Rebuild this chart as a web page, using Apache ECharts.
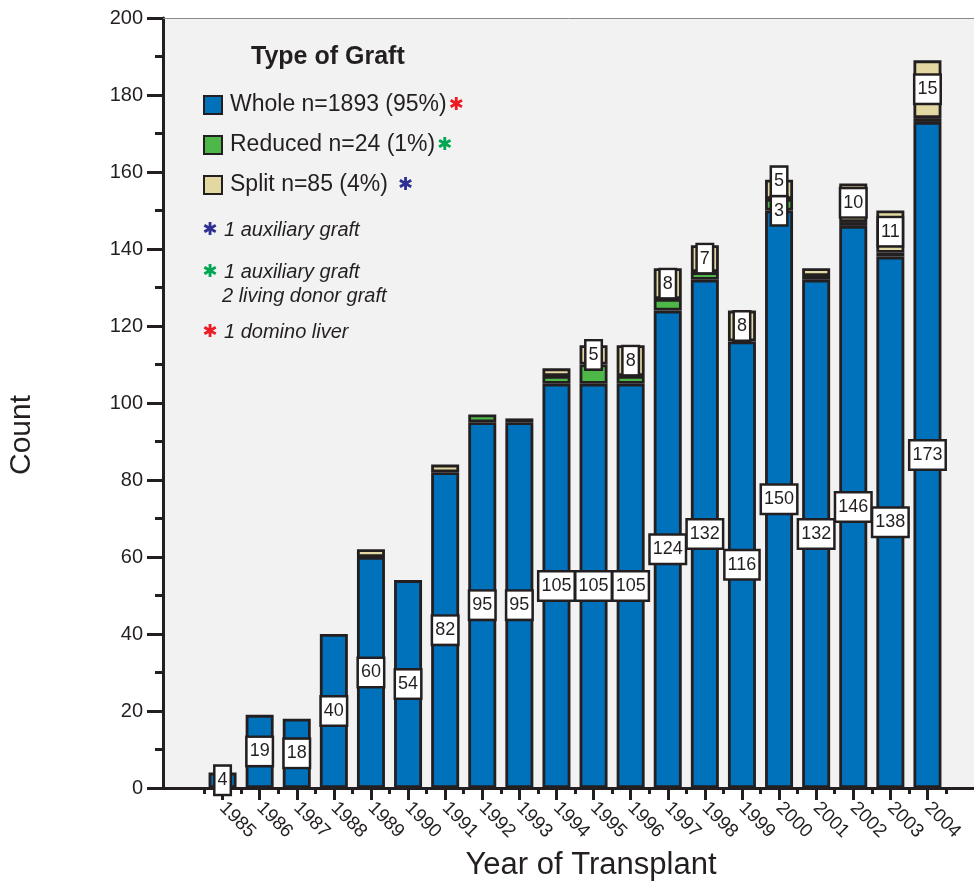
<!DOCTYPE html>
<html><head><meta charset="utf-8">
<script src="https://cdn.jsdelivr.net/npm/echarts@6/dist/echarts.min.js"></script>
<style>html,body{margin:0;padding:0;background:#fff}#c{width:974px;height:882px}</style>
</head><body><div id="c"></div>
<script>
// ---- data ----
const years = ['1985','1986','1987','1988','1989','1990','1991','1992','1993','1994','1995','1996','1997','1998','1999','2000','2001','2002','2003','2004'];
const whole   = [4,19,18,40,60,54,82,95,95,105,105,105,124,132,116,150,132,146,138,173];
const reduced = [0,0,0,0,0,0,0,2,1,2,5,2,3,2,0,3,1,1,1,1];
const split   = [0,0,0,0,2,0,2,0,0,2,5,8,8,7,8,5,2,10,11,15];
const seriesNames = ['Whole','Reduced','Split'];
const legendTexts = ['Whole n=1893 (95%)','Reduced n=24 (1%)','Split n=85 (4%)'];
const reducedLabeledYears = ['2000'];
const splitLabelMin = 5;
const yMin = 0, yMax = 200, yStep = 20;
const titleText = 'Type of Graft';
const xTitle = 'Year of Transplant';
const yTitle = 'Count';
const notes = [
  {star: 'blue',  lines: ['1 auxiliary graft']},
  {star: 'green', lines: ['1 auxiliary graft', '2 living donor graft']},
  {star: 'red',   lines: ['1 domino liver']}
];

// ---- style ----
const FONT = 'Liberation Sans, Arial, Helvetica, sans-serif';
const INK = '#231f20';
const colors = {Whole: '#0072bc', Reduced: '#4db848', Split: '#e3d8a2'};
const starColors = {red: '#ed1c24', green: '#00a651', blue: '#2e3192'};
const legendStar = {Whole: 'red', Reduced: 'green', Split: 'blue'};

const boxLabel = {
  position: 'inside', color: INK, fontFamily: FONT, fontSize: 18, lineHeight: 21,
  backgroundColor: '#fff', borderColor: INK, borderWidth: 2.5, padding: [3, 2]
};

function mkData(arr, name) {
  return arr.map((v, i) => {
    if (!v) return '-';
    let show = true, offset = [0, 0];
    if (name === 'Reduced') { show = reducedLabeledYears.includes(years[i]); offset = [0, 6]; }
    if (name === 'Split') {
      show = v >= splitLabelMin;
      if (reduced[i] && reducedLabeledYears.includes(years[i])) offset = [0, -8];
    }
    return {value: v, label: {show: show, offset: offset}};
  });
}

const dataSets = {Whole: whole, Reduced: reduced, Split: split};
const series = seriesNames.map(n => ({
  name: n, type: 'bar', stack: 'g', xAxisIndex: 0, yAxisIndex: 0,
  barWidth: 28,
  itemStyle: {color: colors[n], borderColor: INK, borderWidth: 2.8},
  label: Object.assign({show: true, formatter: '{c}'}, boxLabel),
  emphasis: {disabled: true},
  data: mkData(dataSets[n], n)
}));

const rich = {
  t: {fontFamily: FONT, fontSize: 23, color: INK, padding: [0, 0, 0, 3]},
  red: {fontFamily: 'DejaVu Sans', fontSize: 18, color: starColors.red, padding: [0, 0, 0, 2]},
  green: {fontFamily: 'DejaVu Sans', fontSize: 18, color: starColors.green, padding: [0, 0, 0, 2]},
  blue: {fontFamily: 'DejaVu Sans', fontSize: 18, color: starColors.blue, padding: [0, 0, 0, 10]}
};

const graphics = [];
const noteY = [230, 272, 332];
notes.forEach((nt, k) => {
  graphics.push({type: 'text', x: 210, y: noteY[k], style: {text: '\u2731', fill: starColors[nt.star], font: '18px DejaVu Sans', align: 'center', verticalAlign: 'middle'}});
  nt.lines.forEach((ln, j) => {
    graphics.push({type: 'text', x: j ? 222 : 224, y: noteY[k] + j * 24, style: {text: ln, fill: INK, font: 'italic 20px ' + FONT, align: 'left', verticalAlign: 'middle'}});
  });
});
graphics.push({type: 'text', x: 22, y: 435, rotation: Math.PI / 2, style: {text: yTitle, fill: INK, font: '30px ' + FONT, align: 'center', verticalAlign: 'middle'}});
graphics.push({type: 'text', x: 591, y: 865, style: {text: xTitle, fill: INK, font: '31px ' + FONT, align: 'center', verticalAlign: 'middle'}});

const option = {
  animation: false,
  backgroundColor: '#fff',
  title: {text: titleText, left: 251, top: 45, padding: 0,
    textStyle: {fontFamily: FONT, fontSize: 25, fontWeight: 'bold', color: INK}},
  legend: {
    orient: 'vertical', left: 203, top: 92, padding: 0,
    itemWidth: 18, itemHeight: 18, itemGap: 14,
    icon: 'rect',
    itemStyle: {borderColor: INK, borderWidth: 2},
    data: seriesNames,
    formatter: n => '{t|' + legendTexts[seriesNames.indexOf(n)] + '}{' + legendStar[n] + '|\u2731}',
    textStyle: {rich: rich, lineHeight: 26}
  },
  grid: [
    {left: 204, width: 742, top: 18, height: 770, containLabel: false},
    {left: 163, width: 811, top: 18, height: 770, show: true, backgroundColor: '#f2f2f2', borderWidth: 0, z: 0}
  ],
  xAxis: [
    {type: 'category', gridIndex: 0, data: years, position: 'bottom',
     axisLine: {show: false}, axisTick: {show: true, length: 6, lineStyle: {color: INK, width: 3}},
     axisLabel: {show: false}, splitLine: {show: false}},
    {type: 'category', gridIndex: 0, data: years, position: 'bottom',
     axisLine: {show: false}, axisTick: {show: true, alignWithLabel: true, length: 12, lineStyle: {color: INK, width: 3}},
     axisLabel: {show: true, rotate: -45, margin: 17, fontFamily: FONT, fontSize: 19, color: INK}, splitLine: {show: false}},
    {type: 'value', gridIndex: 1, min: 0, max: 1, position: 'bottom',
     axisLine: {show: true, lineStyle: {color: INK, width: 3}}, axisTick: {show: false}, axisLabel: {show: false}, splitLine: {show: false}},
    {type: 'value', gridIndex: 1, min: 0, max: 1, position: 'top',
     axisLine: {show: true, lineStyle: {color: '#8a8a8a', width: 1}}, axisTick: {show: false}, axisLabel: {show: false}, splitLine: {show: false}}
  ],
  yAxis: [
    {type: 'value', gridIndex: 0, min: yMin, max: yMax, interval: yStep, show: false},
    {type: 'value', gridIndex: 1, min: yMin, max: yMax, interval: yStep, position: 'left',
     axisLine: {show: true, lineStyle: {color: INK, width: 3}},
     axisTick: {show: true, inside: false, length: 16, lineStyle: {color: INK, width: 3}},
     minorTick: {show: true, splitNumber: 2, length: 8, lineStyle: {color: INK, width: 3}},
     axisLabel: {show: true, margin: 20, fontFamily: FONT, fontSize: 20, color: INK},
     splitLine: {show: false}, minorSplitLine: {show: false}}
  ],
  graphic: graphics,
  series: series
};
const chart = echarts.init(document.getElementById('c'), null, {renderer: 'canvas'});
chart.setOption(option);
</script></body></html>
